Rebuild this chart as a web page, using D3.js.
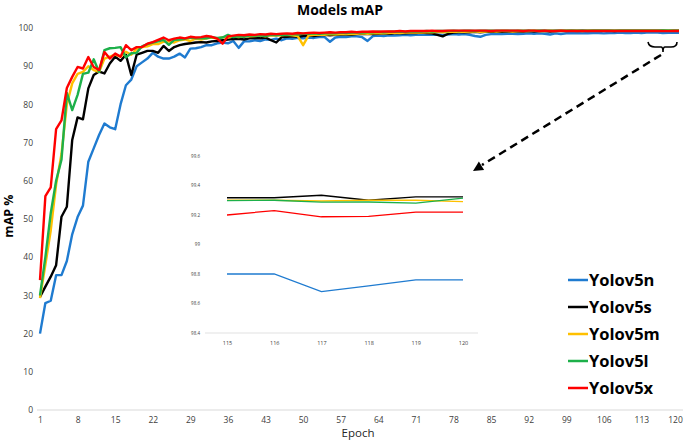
<!DOCTYPE html>
<html>
<head>
<meta charset="utf-8">
<script src="https://cdn.jsdelivr.net/npm/d3@7"></script>
<style>
  body { margin: 0; background: #fff; }
  svg text { font-family: "Open Sans", "Liberation Sans", sans-serif; }
</style>
</head>
<body>
<svg id="chart" width="685" height="445"></svg>
<script>
// data (epochs 1..120)
const epochs = d3.range(1, 121)
const xTicks = d3.range(1, 121, 7)
const yTicks = d3.range(0, 101, 10)
const insetXTicks = [115, 116, 117, 118, 119, 120]
const insetYTicks = [98.4, 98.6, 98.8, 99, 99.2, 99.4, 99.6]
const seriesNames = ['Yolov5n', 'Yolov5s', 'Yolov5m', 'Yolov5l', 'Yolov5x']
const seriesColors = ['#1F7BD0', '#000000', '#FFC000', '#1DB04A', '#FF0000']

const yolov5n = [
  20, 28, 28.6, 35.3, 35.3, 39, 46, 50.5, 53.5, 65,
  68.5, 72, 75, 74, 73.5, 80, 85, 86.5, 90, 91,
  92, 93.5, 92.5, 92, 92, 92.5, 93.3, 92.3, 94.6, 94.7,
  95, 95.5, 95.5, 96, 96.2, 96, 96.6, 94.8, 96.5, 96.5,
  96.8, 96.6, 97.0, 96.9, 97.2, 96.8, 97.3, 97.2, 97.4, 97.3,
  97.5, 97.4, 97.6, 97.6, 96.4, 97.5, 97.7, 97.6, 97.8, 97.8,
  97.6, 96.6, 97.9, 98.0, 97.9, 98.1, 98.0, 98.1, 98.2, 98.1,
  98.2, 98.2, 98.3, 98.2, 98.3, 98.2, 98.3, 98.4, 98.3, 98.4,
  98.2, 97.9, 97.7, 98.2, 98.4, 98.5, 98.4, 98.5, 98.5, 98.4,
  98.5, 98.6, 98.5, 98.6, 98.5, 98.3, 98.6, 98.4, 98.6, 98.7,
  98.6, 98.7, 98.6, 98.7, 98.7, 98.6, 98.7, 98.7, 98.8, 98.7,
  98.7, 98.8, 98.7, 98.8, 98.8, 98.8, 98.68, 98.72, 98.76, 98.76
]
const yolov5s = [
  29.6, 32.3, 34.9, 37.9, 50.6, 53.2, 70.7, 76.6, 76.1, 84.2,
  87.7, 88.6, 88.1, 90.7, 92.5, 91.4, 93, 87.7, 93, 93.5,
  94, 94, 93.5, 95.3, 94, 95, 95.5, 95.8, 96, 96.2,
  96.3, 96.2, 96.5, 96.6, 96.8, 97.0, 97.1, 97.2, 97.0, 97.3,
  97.4, 97.3, 97.5, 96.8, 96.2, 97.6, 97.7, 97.8, 97.7, 97.9,
  98.0, 97.9, 98.1, 98.2, 98.1, 98.2, 98.3, 98.3, 98.2, 98.4,
  98.4, 98.5, 98.4, 98.5, 98.6, 98.5, 98.6, 98.7, 98.6, 98.7,
  98.7, 98.8, 98.7, 98.6, 98.2, 97.8, 98.5, 98.8, 98.9, 98.9,
  98.9, 99.0, 98.9, 99.0, 99.0, 99.1, 99.0, 99.1, 99.1, 99.1,
  99.1, 99.2, 99.1, 99.2, 99.2, 99.1, 99.2, 99.2, 99.2, 99.3,
  99.2, 99.3, 99.2, 99.3, 99.3, 99.3, 99.3, 99.2, 99.3, 99.3,
  99.3, 99.3, 99.3, 99.3, 99.317, 99.317, 99.334, 99.30, 99.323, 99.323
]
const yolov5m = [
  29.3, 38, 47, 59, 67, 80, 85.5, 88, 88.5, 90,
  89, 88.5, 92, 92.5, 93, 92.5, 93.8, 93, 94.5, 95,
  95.2, 95.8, 95.8, 96.4, 96.5, 96.2, 96.8, 97, 96.6, 97.2,
  97.0, 97.3, 97.5, 97.2, 97.6, 97.5, 97.8, 97.6, 97.9, 97.8,
  97.9, 98.0, 97.8, 98.1, 98.0, 98.1, 98.2, 98.1, 97.9, 95.5,
  98.0, 98.2, 98.3, 98.2, 98.4, 98.3, 98.4, 98.5, 98.4, 98.5,
  98.6, 98.5, 98.6, 98.7, 98.6, 98.7, 98.8, 98.7, 98.8, 98.8,
  98.9, 98.8, 98.9, 98.9, 99.0, 98.9, 99.0, 99.0, 99.1, 99.0,
  99.1, 99.1, 99.0, 99.1, 99.2, 99.1, 99.2, 99.2, 99.1, 99.2,
  99.2, 99.2, 99.3, 99.2, 99.2, 99.3, 99.2, 99.3, 99.3, 99.3,
  99.3, 99.2, 99.3, 99.3, 99.3, 99.3, 99.3, 99.3, 99.3, 99.3,
  99.3, 99.3, 99.3, 99.3, 99.30, 99.30, 99.295, 99.30, 99.30, 99.29
]
const yolov5l = [
  30, 40, 51.5, 60, 65.5, 83, 78.5, 82.5, 88, 88.3,
  91.8, 88.5, 94.2, 94.7, 94.8, 95, 92.3, 93.4, 93.5, 95.2,
  95.8, 96.2, 96.5, 96.9, 95.6, 96.9, 97.0, 97.2, 97.5, 97.3,
  97.4, 97.3, 97.6, 97.4, 97.5, 98.2, 97.6, 97.8, 97.7, 98.0,
  98.0, 98.1, 97.9, 98.2, 98.1, 98.3, 98.2, 98.4, 98.3, 98.5,
  98.5, 98.6, 98.5, 98.6, 98.7, 98.6, 98.8, 98.7, 98.8, 98.9,
  98.8, 98.9, 98.9, 99.0, 98.9, 99.0, 99.0, 99.1, 99.0, 99.1,
  99.1, 99.1, 99.2, 99.1, 99.2, 99.2, 99.2, 99.3, 99.2, 99.3,
  99.3, 99.2, 99.3, 99.3, 99.3, 99.3, 99.3, 99.3, 99.3, 99.3,
  99.3, 99.3, 99.3, 99.3, 99.3, 99.3, 99.3, 99.3, 99.3, 99.3,
  99.3, 99.3, 99.3, 99.3, 99.3, 99.3, 99.3, 99.3, 99.3, 99.3,
  99.3, 99.3, 99.3, 99.3, 99.298, 99.30, 99.287, 99.288, 99.28, 99.314
]
const yolov5x = [
  34, 56, 58.3, 73.5, 75.8, 84.3, 87.2, 89.8, 89.4, 92.4,
  89.8, 89, 93.7, 92, 93.3, 92.5, 95.5, 94.2, 95, 95,
  95.9, 96.3, 96.9, 97.5, 96.8, 97.2, 97.5, 97.3, 97.7, 97.5,
  97.6, 97.9, 97.7, 97.2, 95.9, 97.8, 98.0, 98.2, 98.1, 98.3,
  98.2, 98.4, 98.3, 98.5, 98.4, 98.5, 98.6, 98.5, 98.7, 98.6,
  98.7, 98.8, 98.7, 98.8, 98.9, 98.8, 98.9, 98.9, 99.0, 98.9,
  99.0, 99.0, 99.1, 99.0, 99.1, 99.1, 99.1, 99.2, 99.1, 99.2,
  99.2, 99.2, 99.2, 99.3, 99.2, 99.2, 99.3, 99.3, 99.3, 99.3,
  99.3, 99.3, 99.3, 99.3, 99.2, 99.3, 99.3, 99.3, 99.3, 99.3,
  99.2, 99.3, 99.3, 99.2, 99.3, 99.2, 99.2, 99.3, 99.2, 99.2,
  99.2, 99.2, 99.2, 99.2, 99.2, 99.2, 99.2, 99.2, 99.2, 99.2,
  99.2, 99.2, 99.2, 99.2, 99.2, 99.23, 99.188, 99.19, 99.219, 99.219
]
const seriesValues = [yolov5n, yolov5s, yolov5m, yolov5l, yolov5x]

const svg = d3.select('#chart')
const series = seriesNames.map((name, i) => ({
  name: name,
  color: seriesColors[i],
  points: epochs.map((e, j) => ({ e: e, v: seriesValues[i][j] }))
}))

// main chart scales
const x = d3.scaleLinear().domain([1, 120]).range([40, 679])
const y = d3.scaleLinear().domain([0, 100]).range([410, 28])

svg.append('text')
  .attr('x', 340).attr('y', 15)
  .attr('text-anchor', 'middle')
  .style('font-size', '14px').style('font-weight', 'bold')
  .text('Models mAP')

// x axis
const xAxis = svg.append('g')
  .attr('transform', 'translate(0,410)')
  .call(d3.axisBottom(x).tickValues(xTicks).tickSize(0).tickPadding(7))
xAxis.select('.domain').attr('d', 'M37,0H683').attr('stroke', '#d9d9d9').attr('stroke-width', 1)
xAxis.selectAll('text').style('font-size', '8.5px').attr('fill', '#404040')
  .style('font-family', '"Open Sans", sans-serif')
// keep the last label inside the picture
xAxis.selectAll('.tick').filter(d => d === 120).select('text').attr('dx', -4)

// y axis
const yAxis = svg.append('g')
  .attr('transform', 'translate(35,0)')
  .call(d3.axisLeft(y).tickValues(yTicks).tickSize(0).tickPadding(2))
yAxis.select('.domain').remove()
yAxis.selectAll('text').style('font-size', '8.5px').attr('fill', '#404040')
  .style('font-family', '"Open Sans", sans-serif')

svg.append('text')
  .attr('transform', 'translate(13,216) rotate(-90)')
  .attr('text-anchor', 'middle')
  .style('font-size', '12.5px').style('font-weight', 'bold')
  .text('mAP %')

svg.append('text')
  .attr('x', 358).attr('y', 437)
  .attr('text-anchor', 'middle')
  .style('font-size', '11.5px').attr('fill', '#262626')
  .text('Epoch')

const line = d3.line().x(d => x(d.e)).y(d => y(d.v))
svg.append('g').attr('class', 'main-lines')
  .selectAll('path')
  .data(series)
  .join('path')
  .attr('d', d => line(d.points))
  .attr('fill', 'none')
  .attr('stroke', d => d.color)
  .attr('stroke-width', 2.4)
  .attr('stroke-linejoin', 'round')

// inset zoom on the last 6 epochs
const ix = d3.scaleLinear().domain([115, 120]).range([227, 463])
const iy = d3.scaleLinear().domain([98.4, 99.6]).range([333, 156])

const inset = svg.append('g').attr('class', 'inset')
const iXAxis = inset.append('g')
  .attr('transform', 'translate(0,333)')
  .call(d3.axisBottom(ix).tickValues(insetXTicks).tickFormat(d3.format('d')).tickSize(0).tickPadding(8))
iXAxis.select('.domain').attr('d', 'M205,0H478').attr('stroke', '#d9d9d9').attr('stroke-width', 0.8)
iXAxis.selectAll('text').style('font-size', '5.5px').attr('fill', '#404040')

const iYAxis = inset.append('g')
  .attr('transform', 'translate(201,0)')
  .call(d3.axisLeft(iy).tickValues(insetYTicks).tickFormat(d => String(d)).tickSize(0).tickPadding(1))
iYAxis.select('.domain').remove()
iYAxis.selectAll('text').style('font-size', '4.5px').attr('fill', '#404040')

const iline = d3.line().x(d => ix(d.e)).y(d => iy(d.v))
inset.selectAll('path.iline')
  .data(series)
  .join('path')
  .attr('class', 'iline')
  .attr('d', d => iline(d.points.filter(p => p.e >= 115)))
  .attr('fill', 'none')
  .attr('stroke', d => d.color)
  .attr('stroke-width', 1.3)

// brace over the last epochs and dashed arrow to the inset
svg.append('path')
  .attr('d', 'M648,42 Q649,47 655,47 L661,47 Q663,47 663,52 Q663,47 665,47 L671,47 Q677,47 677,42')
  .attr('fill', 'none').attr('stroke', '#000').attr('stroke-width', 1.6)

svg.append('path')
  .attr('d', 'M661,55 L482,165')
  .attr('stroke', '#000').attr('stroke-width', 2.5)
  .attr('stroke-dasharray', '8,5').attr('fill', 'none')
svg.append('path')
  .attr('d', 'M473,171 L478.9,161.5 L484.1,170 Z')
  .attr('fill', '#000')

// legend
const legend = svg.append('g').attr('class', 'legend')
  .selectAll('g')
  .data(series)
  .join('g')
  .attr('transform', (d, i) => 'translate(568,' + (280 + i * 27) + ')')
legend.append('line')
  .attr('x1', 0).attr('x2', 20)
  .attr('stroke', d => d.color).attr('stroke-width', 2.5)
legend.append('text')
  .attr('x', 21).attr('y', 6)
  .style('font-size', '16.5px').style('font-weight', 'bold')
  .text(d => d.name)
</script>
</body>
</html>
